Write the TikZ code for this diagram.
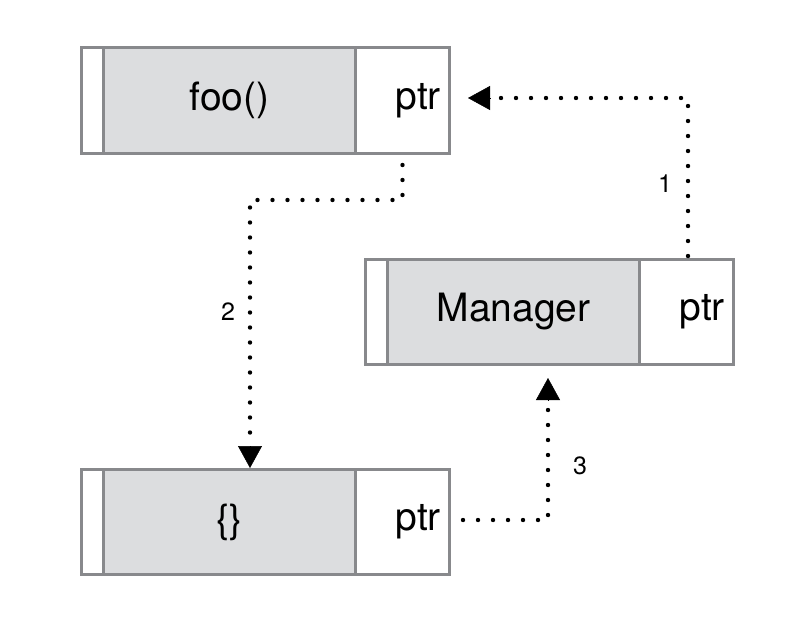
\documentclass[tikz,border=0pt]{standalone}
\usepackage{fontspec}
\setmainfont{TeX Gyre Heros}
\usetikzlibrary{arrows.meta,calc}
\definecolor{edgegray}{RGB}{136,137,140}
\definecolor{fillgray}{RGB}{220,221,223}
\tikzset{
  cell/.style={draw=edgegray, line width=3pt, rectangle, inner sep=0pt, anchor=north west},
  graycell/.style={cell, fill=fillgray},
  whitecell/.style={cell, fill=white},
  bigtext/.style={font=\fontsize{39}{44}\selectfont, inner sep=0pt},
  numtext/.style={font=\fontsize{25}{30}\selectfont, inner sep=0pt},
  dotline/.style={line width=4.4pt, line cap=round, dash pattern=on 0pt off 15pt},
  tipped/.style={line width=0.5pt, -{Triangle[width=24pt,length=22pt]}},
}
\begin{document}
\begin{tikzpicture}[x=1pt,y=-1pt]
\useasboundingbox (0,0) rectangle (803,627);
% top box foo()
\node[whitecell, minimum width=22pt, minimum height=106pt] (fstrip) at (80,46) {};
\node[graycell, minimum width=252pt, minimum height=106pt] (fgray) at (102,46) {};
\node[whitecell, minimum width=94pt, minimum height=106pt] (fptr) at (354,46) {};
\node[bigtext] (ftext) at (fgray.center) {foo()};
\node[bigtext, anchor=east] (fptrtext) at ([xshift=-10pt]fptr.east) {ptr};
% manager box
\node[whitecell, minimum width=22pt, minimum height=105pt] (mstrip) at (364,258) {};
\node[graycell, minimum width=252pt, minimum height=105pt] (mgray) at (386,258) {};
\node[whitecell, minimum width=94pt, minimum height=105pt] (mptr) at (638,258) {};
\node[bigtext] (mtext) at (mgray.center) {Manager};
\node[bigtext, anchor=east] (mptrtext) at ([xshift=-10pt]mptr.east) {ptr};
% bottom box {}
\node[whitecell, minimum width=22pt, minimum height=105pt] (bstrip) at (80,468) {};
\node[graycell, minimum width=252pt, minimum height=105pt] (bgray) at (102,468) {};
\node[whitecell, minimum width=94pt, minimum height=105pt] (bptr) at (354,468) {};
\node[bigtext] (btext) at (bgray.center) {\{\}};
\node[bigtext, anchor=east] (bptrtext) at ([xshift=-10pt]bptr.east) {ptr};
% connectors
\coordinate (c1) at (688,98);
\coordinate (c2) at (250,200);
\coordinate (c3) at (548,520);
% 1: manager ptr -> foo ptr
\draw[dotline] ([yshift=2pt]mptr.north -| c1) -- (c1) -- ([xshift=30pt]fptr.east |- c1);
\draw[tipped] ([xshift=39pt]fptr.east |- c1) -- ([xshift=17pt]fptr.east |- c1);
% 2: foo ptr -> {}
\draw[dotline] ([yshift=-10pt]fptr.south) -- (fptr.south |- c2) -- (c2) -- ([yshift=28pt]c2 |- bgray.north);
\draw[tipped] ([yshift=22pt]c2 |- bgray.north) -- (c2 |- bgray.north);
% 3: {} ptr -> manager
\draw[dotline] ([xshift=12pt]bptr.east |- c3) -- (c3) -- ([yshift=-26pt]c3 |- mgray.south);
\draw[tipped] ([yshift=-34pt]c3 |- mgray.south) -- ([yshift=-12pt]c3 |- mgray.south);
% labels
\node[numtext] (l1) at (665,184) {1};
\node[numtext] (l2) at (228,312) {2};
\node[numtext] (l3) at (580,466) {3};
\end{tikzpicture}
\end{document}
